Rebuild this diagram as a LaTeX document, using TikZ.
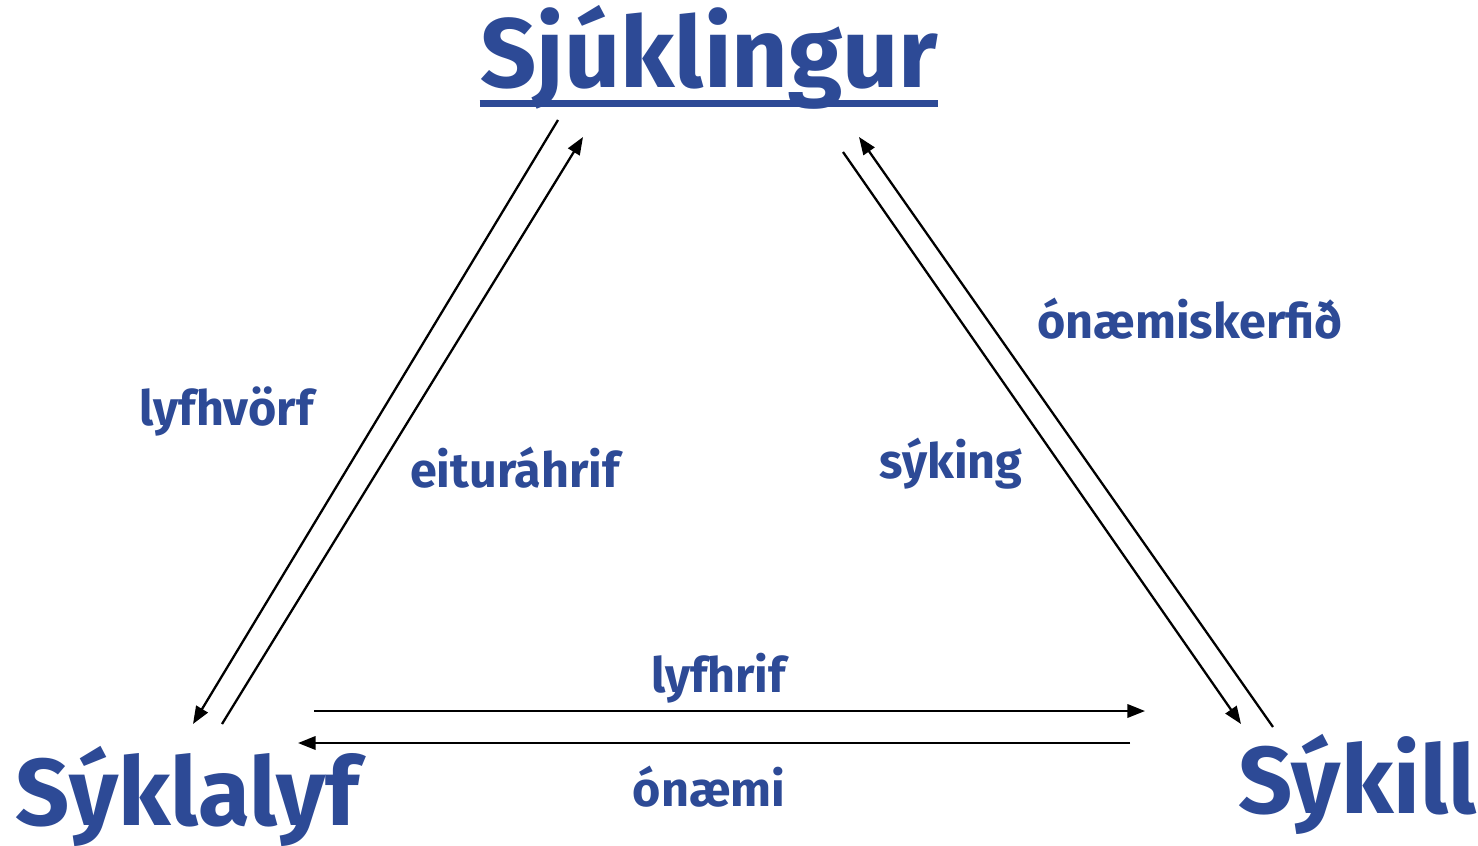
\documentclass[tikz,border=0pt]{standalone}
\usepackage{fontspec}
\setmainfont{Fira Sans}
\definecolor{titleblue}{HTML}{2D4A96}
\usetikzlibrary{arrows.meta, positioning, calc}

\tikzset{
  corner/.style={font=\bfseries\fontsize{27}{30}\selectfont, text=titleblue, inner sep=0pt, anchor=base},
  edgelabel/.style={font=\bfseries\fontsize{13.8}{16}\selectfont, text=titleblue, inner sep=0pt, anchor=base},
  flow/.style={-{Triangle[length=5pt,width=3.8pt]}, line width=0.65pt}
}

\begin{document}
\begin{tikzpicture}
  \useasboundingbox (0,0) rectangle (14.78,8.45);

  % corners of the triangle
  \node[corner, font=\bfseries\fontsize{28}{30}\selectfont] (patient) at (7.09, 7.57) {Sjúklingur};
  \node[corner] (drug)    at (1.875, 0.20) {Sýklalyf};
  \node[corner] (germ)    at (13.575, 0.32) {Sýkill};
  \draw[titleblue, line width=2pt]
    ($(patient.base west)+(0,-0.155)$) -- ($(patient.base east)+(0,-0.155)$);

  % labels on the sides
  \node[edgelabel] (pk)    at (2.265, 4.20) {lyfhvörf};
  \node[edgelabel] (tox)   at (5.15, 3.58)  {eituráhrif};
  \node[edgelabel] (inf)   at (9.51, 3.67)  {sýking};
  \node[edgelabel] (immun) at (11.90, 5.07) {ónæmiskerfið};
  \node[edgelabel] (pd)    at (7.185, 1.53) {lyfhrif};
  \node[edgelabel] (res)   at (7.09, 0.39)  {ónæmi};

  % end points of the arrows
  \foreach \name/\x/\y in {
    pkA/5.58/7.25, pkB/1.93/1.21,
    toxA/2.22/1.21, toxB/5.83/7.08,
    infA/8.43/6.93, infB/12.41/1.21,
    immA/12.73/1.18, immB/8.59/7.08,
    pdA/3.14/1.34, pdB/11.45/1.34,
    resA/11.30/1.02, resB/2.98/1.02} {
    \coordinate (\name) at (\x, \y);
  }

  \draw[flow] (pkA) -- (pkB);
  \draw[flow] (toxA) -- (toxB);
  \draw[flow] (infA) -- (infB);
  \draw[flow] (immA) -- (immB);
  \draw[flow] (pdA) -- (pdB);
  \draw[flow] (resA) -- (resB);
\end{tikzpicture}
\end{document}
